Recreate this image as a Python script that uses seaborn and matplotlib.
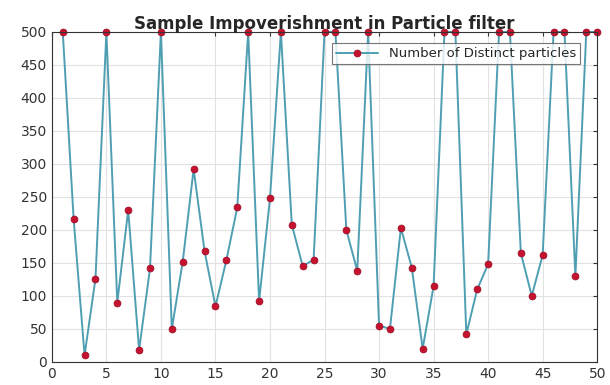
import matplotlib
matplotlib.use("Agg")
import matplotlib.pyplot as plt
import seaborn as sns
import pandas as pd

iterations = list(range(1, 51))
distinct = [500, 216, 10, 126, 500, 90, 230, 18, 142, 500,
            50, 152, 292, 168, 84, 154, 234, 500, 92, 248,
            500, 208, 145, 155, 500, 500, 200, 138, 500, 55,
            50, 203, 143, 20, 115, 500, 500, 42, 110, 148,
            500, 500, 165, 100, 162, 500, 500, 130, 500, 500]
x_ticks = list(range(0, 51, 5))
y_ticks = list(range(0, 501, 50))

df = pd.DataFrame({"iter": iterations, "n": distinct})

sns.set_style("white")
plt.rcParams['font.family'] = ['DejaVu Sans']

fig = plt.figure(figsize=(6.1, 3.85), dpi=100)
ax = fig.add_axes([0.085, 0.06, 0.894, 0.857])

sns.lineplot(data=df, x="iter", y="n", ax=ax, color="#4f9fb3", linewidth=1.4,
             marker="o", markersize=5, markerfacecolor="#c4122f",
             markeredgecolor="#9a0f25", markeredgewidth=0.5,
             label="Number of Distinct particles", clip_on=False)

ax.set_xlim(0, 50)
ax.set_ylim(0, 500)
ax.set_xticks(x_ticks)
ax.set_yticks(y_ticks)
ax.grid(True, color="#e2e2e2", linewidth=0.8)
ax.set_axisbelow(True)
ax.tick_params(direction="in", length=3, labelsize=10, colors="#333333",
               top=True, right=True, labeltop=False, labelright=False)
for s in ax.spines.values():
    s.set_color("#333333")
    s.set_linewidth(0.8)
ax.set_xlabel("")
ax.set_ylabel("")
ax.set_title("Sample Impoverishment in Particle filter", fontsize=12,
             fontweight="bold", pad=2)
leg = ax.legend(loc="upper right", bbox_to_anchor=(0.968, 0.966), fontsize=9.5,
                frameon=True, fancybox=False, edgecolor="#555555",
                handlelength=3.2, borderpad=0.3, borderaxespad=0)
leg.get_frame().set_linewidth(0.8)

fig.savefig("out.png", dpi=100)
